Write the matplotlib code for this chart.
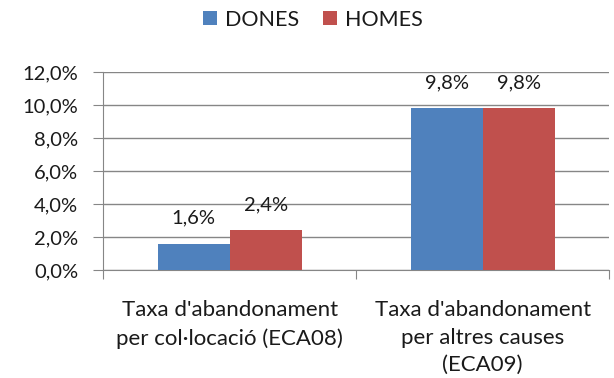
import matplotlib
matplotlib.use("Agg")
import matplotlib.pyplot as plt
import numpy as np

categories = [
    "Taxa d'abandonament\nper col·locació (ECA08)",
    "Taxa d'abandonament\nper altres causes\n(ECA09)",
]
series_names = ["DONES", "HOMES"]
dones = [1.6, 9.8]
homes = [2.4, 9.8]
y_ticks = [0, 2, 4, 6, 8, 10, 12]

colors = ["#4F81BD", "#C0504D"]
grid_color = "#868686"
text_color = "#1a1a1a"

plt.rcParams["font.family"] = ["Lato", "DejaVu Sans"]

fig = plt.figure(figsize=(6.14, 3.78), dpi=100)
ax = fig.add_axes([0.168, 0.286, 0.824, 0.5235])

x = np.arange(len(categories))
width = 0.285
bars = []
for i, (name, vals) in enumerate(zip(series_names, [dones, homes])):
    offs = (i - 0.5) * width
    b = ax.bar(x + offs, vals, width, color=colors[i], label=name, zorder=3)
    bars.append(b)
    for xi, v in zip(x + offs, vals):
        ax.annotate(f"{v:.1f}%".replace(".", ","), (xi, v),
                    xytext=(0, 12), textcoords="offset points",
                    ha="center", va="bottom", fontsize=14.5, color=text_color)

ax.set_xlim(-0.5, 1.5)
ax.set_ylim(0, 12)
ax.set_yticks(y_ticks)
ax.set_yticklabels([f"{t:.1f}%".replace(".", ",") for t in y_ticks],
                   fontsize=14.5, color=text_color)
ax.yaxis.grid(True, color=grid_color, linewidth=1, zorder=0)

# category separators as ticks below the axis, labels centred under groups
ax.set_xticks([-0.5, 0.5, 1.5])
ax.set_xticklabels([])
ax.set_xticks(x, minor=True)
ax.set_xticklabels(categories, minor=True, fontsize=16, color=text_color,
                   linespacing=1.45)
ax.tick_params(axis="x", which="major", length=6.5, color=grid_color, direction="out")
ax.tick_params(axis="x", which="minor", length=0, pad=22)
ax.tick_params(axis="y", length=7, color=grid_color, pad=11)

for side in ["top", "right"]:
    ax.spines[side].set_visible(False)
ax.spines["left"].set_color(grid_color)
ax.spines["bottom"].set_color(grid_color)

fig.legend(handles=bars, labels=series_names, loc="center",
           bbox_to_anchor=(0.51, 0.948), ncol=2, frameon=False,
           fontsize=15.5, handlelength=0.62, handleheight=0.62,
           handletextpad=0.4, columnspacing=1.1, labelcolor=text_color)

fig.savefig("out.png", dpi=100)
